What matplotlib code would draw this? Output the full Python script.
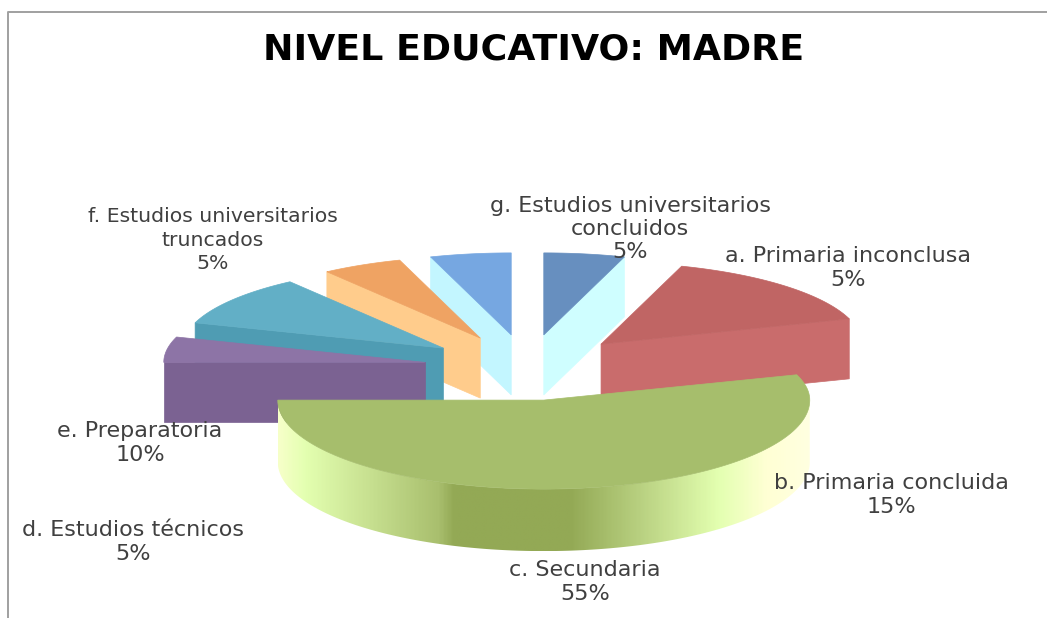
import numpy as np
import matplotlib
matplotlib.use("Agg")
import matplotlib.pyplot as plt
from matplotlib.patches import Polygon
from matplotlib.colors import LinearSegmentedColormap

# data, clockwise from 12 o'clock
labels = ["a. Primaria inconclusa", "b. Primaria concluida", "c. Secundaria", "d. Estudios técnicos",
          "e. Preparatoria", "f. Estudios universitarios\ntruncados", "g. Estudios universitarios\nconcluidos"]
values = [5, 15, 55, 5, 10, 5, 5]

top_colors = ["#678FBF", "#C06564", "#A6BE6C", "#8D74A6", "#62AFC6", "#EFA363", "#76A7E1"]
cut_colors = ["#CFFEFF", "#C96C6C", "#A6BE6C", "#7B6292", "#4F9CB3", "#FFCC8C", "#C3F6FF"]
label_pos = [(848, 268), (891, 495), (585, 582), (133, 542), (140, 443), (213, 240), (630, 229)]
label_size = [16, 16, 16, 16, 16, 14.7, 16]
draw_order = [0, 6, 5, 4, 1, 3, 2]

# pie geometry in pixels of the picture
cx, cy = 527.5, 367.5
rx_back, rx_front = 261, 266
ry_back, ry_front = 82, 89
explode_x, explode_y = 104, 33
wall_h = 60

fig = plt.figure(figsize=(10.47, 6.18), dpi=100)
ax = fig.add_axes([0, 0, 1, 1])
ax.set_xlim(0, 1047)
ax.set_ylim(618, 0)
ax.axis("off")

ax.plot([8, 8, 1047], [618, 12, 12], color="#A0A0A0", lw=1.4)


def rim(x0, y0, angles, rx):
    # angles in degrees, clockwise from the top
    a = np.radians(angles)
    c = np.cos(a)
    ry = np.where(c > 0, ry_back, ry_front)
    return x0 + rx * np.sin(a), y0 - ry * c


wall_cmap = LinearSegmentedColormap.from_list("wall", [
    (0.00, "#F6FFC8"), (0.05, "#E3FFB0"), (0.30, "#A9BF6E"), (0.33, "#93A955"),
    (0.55, "#93A955"), (0.68, "#B8D080"), (0.83, "#E3FFB0"), (0.92, "#FFFFD4"), (1.00, "#FFFFE0")])

spans = {}
start = 0
for i, v in enumerate(values):
    end = start + v * 3.6
    spans[i] = (start, end)
    start = end

for i in draw_order:
    a0, a1 = spans[i]
    mid = np.radians((a0 + a1) / 2)
    px = cx + explode_x * np.sin(mid)
    py = cy - explode_y * np.cos(mid)
    rx = rx_front if np.cos(mid) < 0 else rx_back
    angs = np.linspace(a0, a1, 120)
    xs, ys = rim(px, py, angs, rx)

    # outer wall of the part that faces front
    if a0 < 270 and a1 > 90:
        fr = np.linspace(max(a0, 90), min(a1, 270), 200)
        fx, fy = rim(px, py, fr, rx)
        h = wall_h + 2
        wall = Polygon(np.r_[np.c_[fx, fy], np.c_[fx, fy + h][::-1]], closed=True, fc="none", ec="none")
        ax.add_patch(wall)
        grad = np.linspace(1, 0, 400).reshape(1, -1)
        im = ax.imshow(grad, cmap=wall_cmap, aspect="auto", interpolation="bilinear",
                       extent=[fx.max(), fx.min(), fy.max() + h, fy.min()], zorder=2)
        im.set_clip_path(wall)

    # cut faces that look at the viewer
    for ang, visible in ((a0, np.sin(np.radians(a0)) < -1e-6), (a1, np.sin(np.radians(a1)) > 1e-6)):
        if visible:
            ex, ey = rim(px, py, np.array([ang]), rx)
            ax.add_patch(Polygon([(px, py), (ex[0], ey[0]), (ex[0], ey[0] + wall_h), (px, py + wall_h)],
                                 closed=True, fc=cut_colors[i], ec=cut_colors[i], lw=0.5, zorder=2))

    ax.add_patch(Polygon(np.r_[[(px, py)], np.c_[xs, ys]], closed=True,
                         fc=top_colors[i], ec=top_colors[i], lw=0.5, zorder=2))

ax.set_xlim(0, 1047)
ax.set_ylim(618, 0)

for lab, v, (x, y), size in zip(labels, values, label_pos, label_size):
    # keep the 26 px line pitch of the picture whatever the size
    ax.text(x, y, "%s\n%d%%" % (lab, v), ha="center", va="center", multialignment="center",
            family="DejaVu Sans", fontsize=size, color="#404040", linespacing=19.3 / size, zorder=5)

ax.text(534, 49, "NIVEL EDUCATIVO: MADRE", ha="center", va="center", family="DejaVu Sans",
        fontweight="bold", fontsize=26.2, color="black", zorder=5)

fig.savefig("out.png", dpi=100)
